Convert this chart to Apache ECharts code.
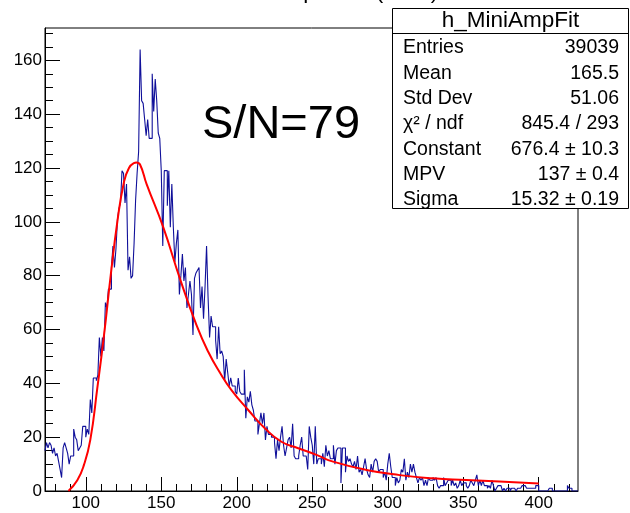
<!DOCTYPE html>
<html>
<head>
<meta charset="utf-8">
<script src="https://cdn.jsdelivr.net/npm/echarts@6/dist/echarts.min.js"></script>
<style>
html,body{margin:0;padding:0;background:#fff;}
#chart{width:630px;height:513px;}
</style>
</head>
<body>
<div id="chart"></div>
<script>
// ---- data ----
const binStart = 73;
const binWidth = 1;
const counts = [
  15,18,16,18,17,14,16,13,14,11,
  8,5,16,18,16,14,10,13,13,23,
  20,19,15,16,17,24,24,20,23,21,
  34,29,42,42,41,43,57,50,57,52,
  70,68,75,75,83,91,83,90,101,105,
  107,119,118,107,114,82,87,79,80,92,
  108,118,126,164,145,144,138,132,138,131,
  131,155,141,153,145,133,131,119,91,119,
  119,106,119,98,114,98,85,92,97,73,
  80,88,78,83,68,73,78,73,58,79,
  81,82,83,68,76,64,76,91,72,57,
  65,61,61,56,49,61,51,52,50,41,
  49,44,39,42,39,39,37,36,42,37,
  36,36,45,27,35,33,37,32,30,26,
  26,21,25,29,25,29,19,24,21,21,
  20,20,18,12,19,15,20,24,17,13,
  16,19,20,16,25,13,12,12,13,17,
  20,13,13,13,8,24,20,17,10,24,
  10,12,12,10,14,9,17,13,15,12,
  12,17,10,15,16,16,3,16,16,7,
  13,11,12,10,9,11,8,13,7,8,
  6,9,12,8,6,5,10,7,11,12,
  11,7,8,8,5,7,4,10,14,9,
  5,5,2,5,3,4,8,7,12,4,
  7,5,10,7,10,7,5,3,5,4,
  5,2,4,2,5,4,4,5,4,5,
  2,1,2,2,5,2,3,4,4,2,
  4,2,3,1,2,4,2,3,3,2,
  1,2,4,3,2,4,6,2,4,2,
  4,2,2,1,2,1,4,2,0,1,
  2,2,2,0,1,0,1,1,0,1,
  1,1,0,1,1,1,2,2,2,1,
  1,1,1,1,1,2,2,0,0,0,
  0,0,0,0,1,1,0,0,0,0,
  0,0,0,0,0,0,2,1,1,0,
  0,0,0
];
// fit curve points
const fitX = [88.5,94.4,98.8,103,107.6,112,116.5,120.9,125.3,128.6,131.9,133.5,136,140.3,151.3,162.3,173.4,181,188.8,196.5,207.6,218.6,229.6,240.7,252.8,263.8,285.9,308,330,352,374,400];
const fitY = [0,4,9.7,19,38,57.5,80,100,114.8,120,121.8,122,121.2,114,98,79,61.5,51.8,44,37.5,30.1,23.3,18.3,15.9,13.4,10.9,7.8,5.9,4.7,4.1,3.5,2.8];

const xMin = 73, xMax = 426, yMin = 0, yMax = 172;
const xMajorTicks = [100,150,200,250,300,350,400];
const xMinorTicks = [80,90,110,120,130,140,160,170,180,190,210,220,230,240,260,270,280,290,310,320,330,340,360,370,380,390,410,420];
const yMajorTicks = [0,20,40,60,80,100,120,140,160];
const yMinorTicks = [5,10,15,25,30,35,45,50,55,65,70,75,85,90,95,105,110,115,125,130,135,145,150,155,165,170];

const titleText = 'Mini Amplitude (ADC)';
const annotationText = 'S/N=79';
const statsTitle = 'h_MiniAmpFit';
const statsNames = ['Entries','Mean','Std Dev','\u03c7\u00b2 / ndf','Constant','MPV','Sigma'];
const statsValues = ['39039','165.5','51.06','845.4 / 293','676.4 \u00b1 10.3','137 \u00b1 0.4','15.32 \u00b1 0.19'];

// ---- chart ----
const FONT = '"Liberation Sans", Arial, Helvetica, sans-serif';
const histData = counts.map((c, i) => [binStart + i * binWidth, c]);
histData.push([binStart + counts.length * binWidth, counts[counts.length - 1]]);
const fitData = fitX.map((x, i) => [x, fitY[i]]);

const chart = echarts.init(document.getElementById('chart'), null, {renderer: 'canvas'});

const statsBox = {x: 392.5, y: 8.5, w: 236, h: 200, sep: 33.5, rowStart: 48, rowStep: 25.3};
const graphics = [
  {type: 'text', z: 50, style: {text: titleText, x: 222, y: -8, font: '22.5px ' + FONT, fill: '#000', align: 'left', verticalAlign: 'middle'}},
  {type: 'text', z: 50, style: {text: annotationText, x: 202, y: 125, font: '47px ' + FONT, fill: '#000', align: 'left', verticalAlign: 'middle'}},
  {type: 'rect', z: 100, shape: {x: statsBox.x, y: statsBox.y, width: statsBox.w, height: statsBox.h}, style: {fill: '#fff', stroke: '#000', lineWidth: 1}},
  {type: 'line', z: 101, shape: {x1: statsBox.x, y1: statsBox.sep, x2: statsBox.x + statsBox.w, y2: statsBox.sep}, style: {stroke: '#000', lineWidth: 1}},
  {type: 'text', z: 102, style: {text: statsTitle, x: statsBox.x + statsBox.w / 2, y: 21, font: '22.5px ' + FONT, fill: '#000', align: 'center', verticalAlign: 'middle'}}
];
statsNames.forEach((n, i) => {
  const y = statsBox.rowStart + i * statsBox.rowStep;
  graphics.push({type: 'text', z: 102, style: {text: n, x: 403, y: y, font: '19.5px ' + FONT, fill: '#000', align: 'left', verticalAlign: 'middle'}});
  graphics.push({type: 'text', z: 102, style: {text: statsValues[i], x: 619, y: y, font: '19.5px ' + FONT, fill: '#000', align: 'right', verticalAlign: 'middle'}});
});

const axisCommon = {
  type: 'value',
  splitLine: {show: false},
  axisLine: {show: true, lineStyle: {color: '#000', width: 1}},
};

chart.setOption({
  animation: false,
  backgroundColor: '#fff',
  grid: {left: 45, top: 28, right: 52, bottom: 22, show: true, borderColor: '#000', borderWidth: 1, backgroundColor: 'transparent'},
  xAxis: [
    Object.assign({}, axisCommon, {
      min: xMin, max: xMax, position: 'bottom',
      axisTick: {show: true, inside: true, length: 14, customValues: xMajorTicks, lineStyle: {color: '#000'}},
      axisLabel: {show: true, customValues: xMajorTicks, fontSize: 17, color: '#000', fontFamily: FONT, margin: 4}
    }),
    Object.assign({}, axisCommon, {
      min: xMin, max: xMax, position: 'bottom',
      axisLine: {show: false},
      axisTick: {show: true, inside: true, length: 7, customValues: xMinorTicks, lineStyle: {color: '#000'}},
      axisLabel: {show: false}
    })
  ],
  yAxis: [
    Object.assign({}, axisCommon, {
      min: yMin, max: yMax, position: 'left',
      axisTick: {show: true, inside: true, length: 15, customValues: yMajorTicks, lineStyle: {color: '#000'}},
      axisLabel: {show: true, customValues: yMajorTicks, fontSize: 17, color: '#000', fontFamily: FONT, margin: 3}
    }),
    Object.assign({}, axisCommon, {
      min: yMin, max: yMax, position: 'left',
      axisLine: {show: false},
      axisTick: {show: true, inside: true, length: 8, customValues: yMinorTicks, lineStyle: {color: '#000'}},
      axisLabel: {show: false}
    })
  ],
  series: [
    {
      type: 'line', name: 'h_MiniAmpFit', data: histData, step: 'end',
      xAxisIndex: 0, yAxisIndex: 0, showSymbol: false, symbol: 'none',
      lineStyle: {color: '#10109a', width: 1.1}, clip: true, z: 2
    },
    {
      type: 'line', name: 'fit', data: fitData, smooth: 0.5,
      xAxisIndex: 0, yAxisIndex: 0, showSymbol: false, symbol: 'none',
      lineStyle: {color: '#ff0000', width: 2}, clip: true, z: 3
    }
  ],
  graphic: graphics
});
</script>
</body>
</html>
